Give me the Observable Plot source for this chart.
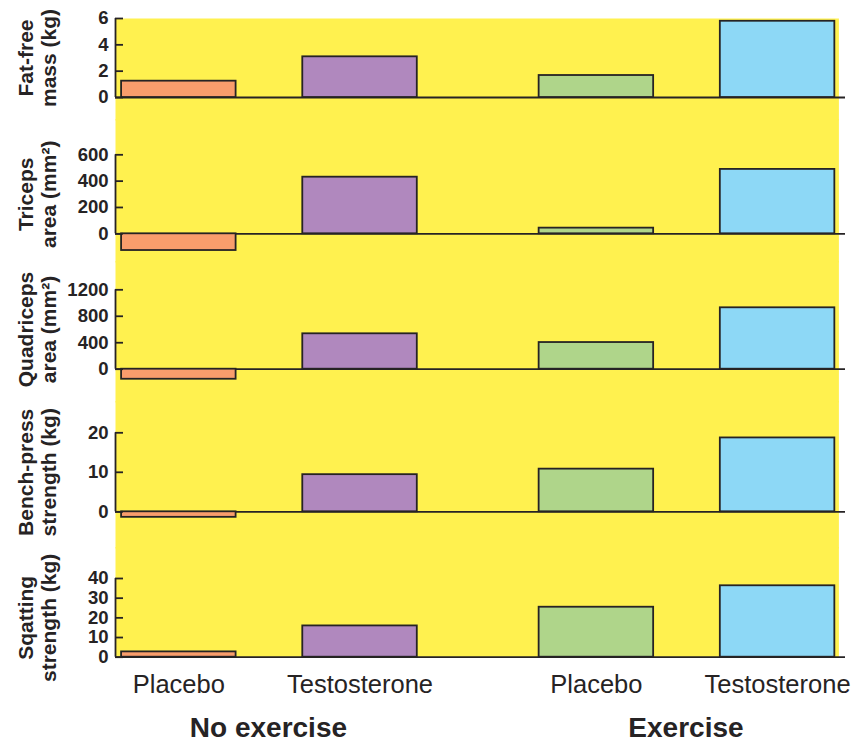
<!DOCTYPE html>
<html><head><meta charset="utf-8">
<script src="https://cdn.jsdelivr.net/npm/d3@7"></script>
<script src="https://cdn.jsdelivr.net/npm/@observablehq/plot@0.6"></script>
<style>
html,body{margin:0;padding:0;background:#fff;}
#chart{width:859px;}
#chart svg{display:block;overflow:visible;background:transparent;}
</style></head><body><div id="chart"></div>
<script>
// ---- data ----
const groups = ["No exercise", "Exercise"];
const treatments = ["Placebo", "Testosterone"];
const barKeys = ["NE-Placebo", "NE-Testosterone", "EX-Placebo", "EX-Testosterone"];
const barColors = ["#F99D6C", "#B088BE", "#AFD58A", "#8DD8F6"];

const panelLabels = ["Fat-free\nmass (kg)", "Triceps\narea (mm²)", "Quadriceps\narea (mm²)", "Bench-press\nstrength (kg)", "Sqatting\nstrength (kg)"];
const panelTicks = [[0, 2, 4, 6], [0, 200, 400, 600], [0, 400, 800, 1200], [0, 10, 20], [0, 10, 20, 30, 40]];

// values ordered: No exercise Placebo, No exercise Testosterone, Exercise Placebo, Exercise Testosterone
const fatFreeMass = [1.24, 3.09, 1.67, 5.79];
const tricepsArea = [-127, 430, 43, 489];
const quadricepsArea = [-152, 535, 403, 928];
const benchPress = [-1.4, 9.4, 10.8, 18.7];
const squatting = [2.7, 15.9, 25.4, 36.3];
const panelValues = [fatFreeMass, tricepsArea, quadricepsArea, benchPress, squatting];

// ---- layout / style ----
const W = 859, ML = 115, MR = 14;
const INNER = W - ML - MR;
const YELLOW = "#FFF14F";
const INK = "#262324";
const FONT = "'Liberation Sans', Arial, Helvetica, sans-serif";
const FX_RANGE = [ML, 838.4], FX_PI = 0.2675;
const fxStep = (FX_RANGE[1] - FX_RANGE[0]) / (groups.length - FX_PI);
const fxBand = fxStep * (1 - FX_PI);
const layouts = [
  {height: 120, marginTop: 18, marginBottom: 0, range: [97, 18]},
  {height: 142, marginTop: 0, marginBottom: 0, range: [113.3, 34.3]},
  {height: 140, marginTop: 0, marginBottom: 0, range: [106.7, 27.3]},
  {height: 146, marginTop: 0, marginBottom: 0, range: [109.3, 30.3]},
  {height: 194, marginTop: 0, marginBottom: 85.3, range: [108.7, 30]}
];

const chart = document.getElementById("chart");

panelValues.forEach((values, p) => {
  const lay = layouts[p];
  const ticks = panelTicks[p];
  const top = ticks[ticks.length - 1];
  const isLast = p === panelValues.length - 1;
  const rows = values.map((v, i) => ({
    group: groups[Math.floor(i / 2)],
    treatment: treatments[i % 2],
    key: barKeys[i],
    value: v
  }));
  const line = {stroke: INK, strokeWidth: 1.8, facetAnchor: "left"};
  const marks = [
    Plot.frame({fill: YELLOW, stroke: null, facet: "super", insetTop: p > 0 ? -1.5 : 0}),
    Plot.ruleY([0], {...line, insetRight: -(INNER - fxBand)}),
    Plot.barY(rows, {fx: "group", x: "treatment", y: "value", fill: "key", stroke: INK, strokeWidth: 1.8}),
    Plot.ruleX([0], {...line, x: null, y1: 0, y2: top, dx: -fxBand / 2}),
    Plot.tickY(ticks, {...line, y: d => d, insetRight: fxBand - 8}),
    Plot.axisY({ticks, tickSize: 0, tickPadding: 7, fontSize: 18.5, fontWeight: "bold", fill: INK, label: null, tickFormat: d => String(d)}),
    Plot.text([panelLabels[p]], {text: d => d, y: top / 2, frameAnchor: "left", textAnchor: "middle", lineAnchor: "middle",
      dx: -78.5, rotate: -90, fontSize: 21, fontWeight: "bold", lineHeight: 1.1, fill: INK, facetAnchor: "left"})
  ];
  if (isLast) {
    marks.push(Plot.axisX({anchor: "bottom", tickSize: 0, tickPadding: 18, fontSize: 25.5, fill: INK, label: null}));
    marks.push(Plot.axisFx({anchor: "bottom", tickSize: 0, tickPadding: 60, fontSize: 28, fontWeight: "bold", fill: INK, label: null}));
  }
  const svg = Plot.plot({
    width: W,
    height: lay.height,
    marginLeft: ML,
    marginRight: MR,
    marginTop: lay.marginTop,
    marginBottom: lay.marginBottom,
    style: {fontFamily: FONT, background: "transparent", overflow: "visible"},
    fx: {domain: groups, range: FX_RANGE, paddingInner: FX_PI, paddingOuter: 0, align: 0, round: false, ...(isLast ? {} : {axis: null})},
    x: {domain: treatments, paddingInner: 0.368, paddingOuter: 0.028, align: 0.6, round: false, ...(isLast ? {} : {axis: null})},
    y: {domain: [0, top], range: lay.range, axis: null},
    color: {type: "ordinal", domain: barKeys, range: barColors},
    marks
  });
  chart.appendChild(svg);
});
</script>
</body></html>
